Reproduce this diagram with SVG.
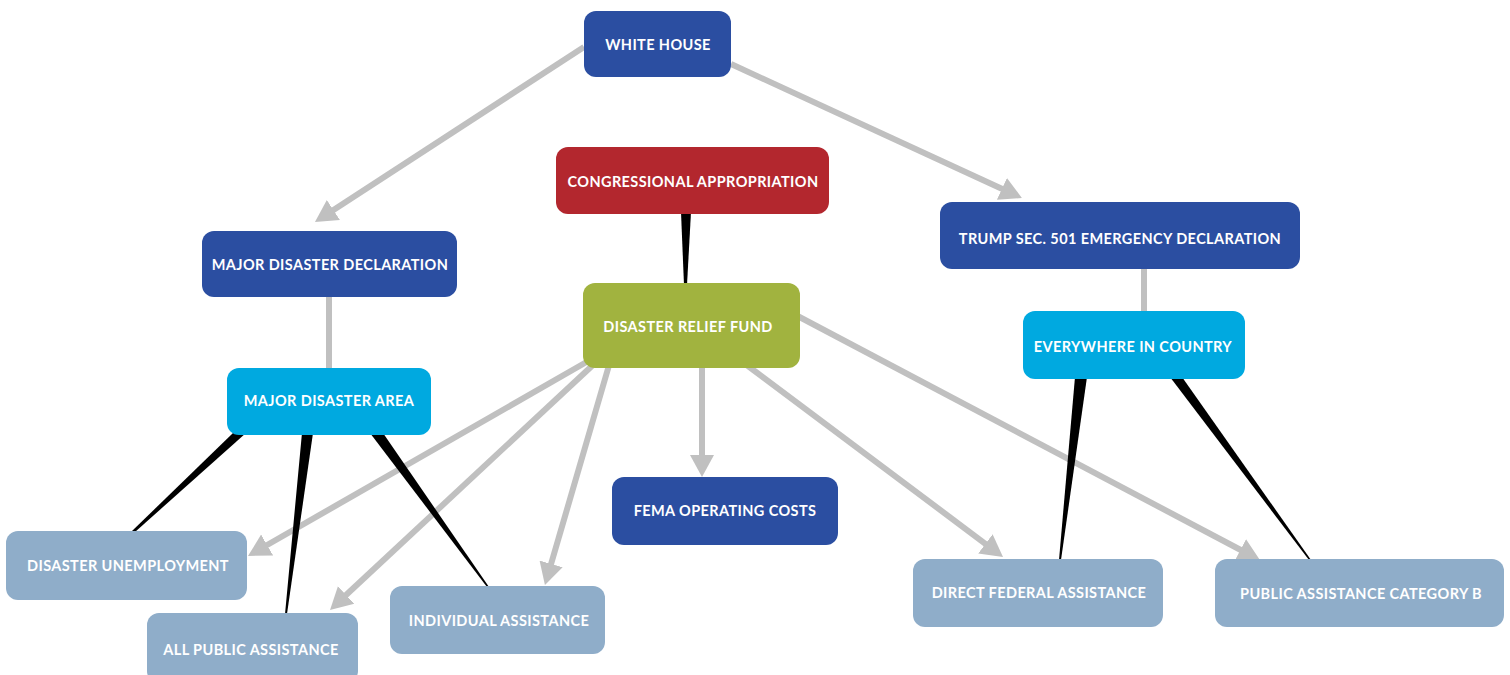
<svg xmlns="http://www.w3.org/2000/svg" width="1510" height="675" viewBox="0 0 1510 675">
<style>
.n rect{rx:12;ry:12}
.db{fill:#2b4ea1}.rd{fill:#b3272e}.gr{fill:#a1b33f}.cy{fill:#00a9e0}.lb{fill:#8fadc9}
.n text{font-family:Lato,"Open Sans","Liberation Sans",sans-serif;font-weight:700;font-size:14.5px;letter-spacing:0.4px;fill:#fff;text-anchor:middle}
.g{stroke:#c0c0c0;stroke-width:6;fill:none}
.a{marker-end:url(#ah)}
.w{fill:#000}
</style>
<defs>
<marker id="ah" markerUnits="userSpaceOnUse" markerWidth="24" markerHeight="26" refX="10" refY="12" orient="auto" viewBox="0 0 24 24">
<path d="M0,0 L22,12 L0,24 z" fill="#c0c0c0"/>
</marker>
</defs>
<g id="connectors">
<line class="g a" x1="584" y1="47" x2="325" y2="215.4"/>
<line class="g a" x1="731" y1="64" x2="1011" y2="193"/>
<line class="g" x1="329" y1="290" x2="329" y2="375"/>
<line class="g" x1="1144" y1="262" x2="1144" y2="318"/>
<line class="g a" x1="590" y1="360" x2="258.4" y2="550"/>
<line class="g a" x1="598.6" y1="359.7" x2="338.8" y2="601.8"/>
<line class="g a" x1="612" y1="355" x2="548.3" y2="573.5"/>
<line class="g a" x1="702" y1="360" x2="702" y2="465"/>
<line class="g a" x1="740" y1="360" x2="993.4" y2="549.8"/>
<line class="g a" x1="790" y1="312" x2="1249.3" y2="554.5"/>
<polygon class="w" points="681,212 691,212 687,285 684,285"/>
<polygon class="w" points="233,433 246,433 135,532 131,532"/>
<polygon class="w" points="302,433 313,433 287,614 285,614"/>
<polygon class="w" points="370,433 383,433 489,587 487,587"/>
<polygon class="w" points="1075,377 1087,377 1061,560 1059,560"/>
<polygon class="w" points="1170,377 1182,377 1311,560 1309,560"/>
</g>
<g id="white-house" class="n"><rect class="db" x="584" y="11" width="147" height="66"/><text x="658" y="50">WHITE HOUSE</text></g>
<g id="congressional-appropriation" class="n"><rect class="rd" x="556" y="147" width="273" height="67"/><text x="693" y="187">CONGRESSIONAL APPROPRIATION</text></g>
<g id="major-disaster-declaration" class="n"><rect class="db" x="202" y="231" width="255" height="66"/><text x="330" y="270">MAJOR DISASTER DECLARATION</text></g>
<g id="trump-emergency-declaration" class="n"><rect class="db" x="940" y="202" width="360" height="67"/><text x="1120" y="244">TRUMP SEC. 501 EMERGENCY DECLARATION</text></g>
<g id="disaster-relief-fund" class="n"><rect class="gr" x="583" y="283" width="217" height="85"/><text x="688" y="332">DISASTER RELIEF FUND</text></g>
<g id="major-disaster-area" class="n"><rect class="cy" x="227" y="368" width="204" height="67"/><text x="329" y="406">MAJOR DISASTER AREA</text></g>
<g id="everywhere-in-country" class="n"><rect class="cy" x="1023" y="311" width="222" height="68"/><text x="1133" y="352">EVERYWHERE IN COUNTRY</text></g>
<g id="fema-operating-costs" class="n"><rect class="db" x="612" y="477" width="226" height="68"/><text x="725" y="516">FEMA OPERATING COSTS</text></g>
<g id="disaster-unemployment" class="n"><rect class="lb" x="6" y="531" width="241" height="69"/><text x="128" y="571">DISASTER UNEMPLOYMENT</text></g>
<g id="all-public-assistance" class="n"><rect class="lb" x="147" y="613" width="211" height="70"/><text x="251" y="655">ALL PUBLIC ASSISTANCE</text></g>
<g id="individual-assistance" class="n"><rect class="lb" x="390" y="586" width="215" height="68"/><text x="499" y="626">INDIVIDUAL ASSISTANCE</text></g>
<g id="direct-federal-assistance" class="n"><rect class="lb" x="913" y="559" width="250" height="68"/><text x="1039" y="598">DIRECT FEDERAL ASSISTANCE</text></g>
<g id="public-assistance-category-b" class="n"><rect class="lb" x="1215" y="559" width="289" height="68"/><text x="1361" y="599">PUBLIC ASSISTANCE CATEGORY B</text></g>
</svg>
